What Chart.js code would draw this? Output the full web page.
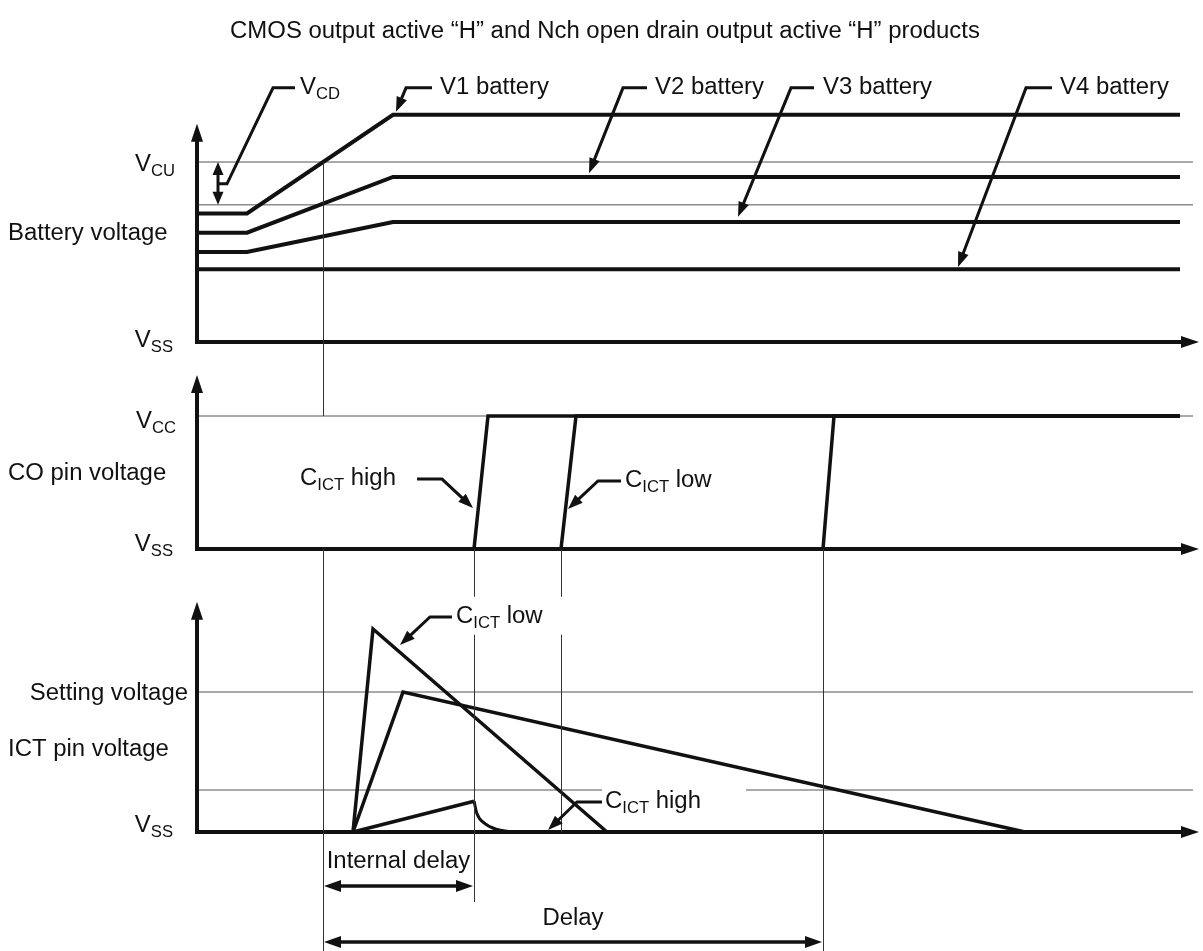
<!DOCTYPE html>
<html lang="en">
<head>
<meta charset="UTF-8">
<title>Overcharge detection timing</title>
<script src="https://cdn.jsdelivr.net/npm/chart.js"></script>
<style>
  body { margin: 0; background: #fff; }
  canvas { display: block; }
</style>
</head>
<body>
<canvas id="timing" width="1203" height="951"></canvas>
<script>
// ---- data: time in arbitrary units, each panel in its own voltage units ----
const title = 'CMOS output active \u201cH\u201d and Nch open drain output active \u201cH\u201d products';

const tEnd = 98.3;                 // end of drawn waveforms
const tAxisEnd = 99.3;             // end of time axes
const tRefEnd = 99.6;              // end of thin reference levels
const tRamp = [5.0, 19.6];         // battery charging ramp start / end
const tDetect = 12.6;              // battery crosses VCU
const tInternal = 27.7;            // internal delay over
const tLowOut = 36.4;
const tDelay = 62.6;

// battery voltage panel
const VCU = 4.2;
const VCU_minus_VCD = 3.2;
const batteryNames = ['V1 battery', 'V2 battery', 'V3 battery', 'V4 battery'];
const batteryStart = [3.0, 2.55, 2.1, 1.7];
const batteryEnd = [5.3, 3.85, 2.8, 1.7];

// CO pin panel
const VCC = 5;
const coEdgeLow = [27.7, 36.4, 62.6];
const coEdgeHigh = [29.1, 37.9, 63.7];

// ICT pin panel
const VSET = 1.0;
const VREF_LOW = 0.3;
const ictLow = [[15.6, 0], [17.6, 1.45], [41.0, 0]];
const ictMid = [[15.6, 0], [20.6, 1.0], [82.8, 0]];
const ictHighRise = [[15.6, 0], [27.7, 0.22]];
const ictHighFall = [[27.7, 0.22], [28.0, 0.13], [28.8, 0.06], [29.9, 0.02], [31.5, 0]];

// ---- look ----
const INK = '#111';
const THIN = '#555';
const FONT = '"Liberation Sans", Arial, Helvetica, sans-serif';
const SX = 1.04;
const FS = 23, FS_SUB = 16;
const H = 951;

// value range so that v0 sits at pixel px0 and v1 at px1 on a full-height scale
function panel(v0, px0, v1, px1) {
  const k = (px0 - px1) / (v1 - v0);
  return { min: v0 - (H - px0) / k, max: v0 + px0 / k };
}

function line(yAxisID, pts, opts) {
  return Object.assign({
    yAxisID: yAxisID,
    data: pts.map(p => ({ x: p[0], y: p[1] })),
    showLine: true,
    pointRadius: 0,
    borderColor: INK,
    borderWidth: 4,
    borderJoinStyle: 'miter',
    tension: 0,
    order: 2
  }, opts || {});
}

const datasets = [];

// thin reference levels
datasets.push(line('yB', [[0, VCU], [tRefEnd, VCU]], { borderColor: THIN, borderWidth: 1, order: 3 }));
datasets.push(line('yB', [[0, VCU_minus_VCD], [tRefEnd, VCU_minus_VCD]], { borderColor: THIN, borderWidth: 1, order: 3 }));
datasets.push(line('yC', [[0, VCC], [tRefEnd, VCC]], { borderColor: THIN, borderWidth: 1, order: 3 }));
datasets.push(line('yI', [[0, VSET], [tRefEnd, VSET]], { borderColor: THIN, borderWidth: 1, order: 3 }));
datasets.push(line('yI', [[0, VREF_LOW], [40.5, VREF_LOW]], { borderColor: THIN, borderWidth: 1, order: 3 }));
datasets.push(line('yI', [[54.9, VREF_LOW], [tRefEnd, VREF_LOW]], { borderColor: THIN, borderWidth: 1, order: 3 }));

// battery waveforms
batteryNames.forEach((n, i) => {
  datasets.push(line('yB', [[0, batteryStart[i]], [tRamp[0], batteryStart[i]], [tRamp[1], batteryEnd[i]], [tEnd, batteryEnd[i]]], { label: n }));
});

// CO pin waveforms
coEdgeLow.forEach((t, i) => {
  datasets.push(line('yC', [[0, 0], [t, 0], [coEdgeHigh[i], VCC], [tEnd, VCC]], { borderWidth: 3.5 }));
});

// ICT pin waveforms
datasets.push(line('yI', ictLow, { borderWidth: 3.5 }));
datasets.push(line('yI', ictMid, { borderWidth: 3.5 }));
datasets.push(line('yI', ictHighRise, { borderWidth: 3.5 }));
datasets.push(line('yI', ictHighFall, { borderWidth: 3, tension: 0.4, cubicInterpolationMode: 'monotone' }));

// axes with arrow heads
datasets.push(line('yB', [[0, 4.88], [0, 0], [tAxisEnd, 0]], { arrows: true, order: 1 }));
datasets.push(line('yC', [[0, 6.2], [0, 0], [tAxisEnd, 0]], { arrows: true, order: 1 }));
datasets.push(line('yI', [[0, 1.58], [0, 0], [tAxisEnd, 0]], { arrows: true, order: 1 }));

// ---- annotations ----
const axisLabels = [
  { s: 'V_{CU}', y: ['yB', VCU], dy: 1, x: 175, align: 'right' },
  { s: 'Battery voltage', y: ['yB', 2.57], dy: 0, x: 8, align: 'left' },
  { s: 'V_{SS}', y: ['yB', 0], dy: -3, x: 173, align: 'right' },
  { s: 'V_{CC}', y: ['yC', VCC], dy: 4, x: 176, align: 'right' },
  { s: 'CO pin voltage', y: ['yC', 2.9], dy: 0, x: 8, align: 'left' },
  { s: 'V_{SS}', y: ['yC', 0], dy: -6, x: 173, align: 'right' },
  { s: 'Setting voltage', y: ['yI', VSET], dy: 0, x: 188, align: 'right' },
  { s: 'ICT pin voltage', y: ['yI', 0.6], dy: 0, x: 8, align: 'left' },
  { s: 'V_{SS}', y: ['yI', 0], dy: -8, x: 173, align: 'right' }
];

const callouts = [
  { s: 'V_{CD}', scale: 'yB', pts: [[2.1, 3.69], [3.0, 3.69], [7.6, 5.93], [9.8, 5.93]], tx: 10.3, head: false },
  { s: batteryNames[0], scale: 'yB', pts: [[23.5, 5.93], [20.9, 5.93], [19.9, 5.37]], tx: 24.3, head: true },
  { s: batteryNames[1], scale: 'yB', pts: [[45.0, 5.93], [42.6, 5.93], [39.2, 3.94]], tx: 45.8, head: true },
  { s: batteryNames[2], scale: 'yB', pts: [[61.7, 5.93], [59.4, 5.93], [54.1, 2.92]], tx: 62.6, head: true },
  { s: batteryNames[3], scale: 'yB', pts: [[85.5, 5.93], [82.9, 5.93], [76.1, 1.75]], tx: 86.3, head: true },
  { s: 'C_{ICT} high', scale: 'yC', pts: [[22.0, 2.63], [24.5, 2.63], [27.6, 1.54]], tx: 10.3, head: true },
  { s: 'C_{ICT} low', scale: 'yC', pts: [[42.4, 2.56], [40.1, 2.56], [37.1, 1.50]], tx: 42.8, head: true },
  { s: 'C_{ICT} low', scale: 'yI', pts: [[25.5, 1.536], [23.3, 1.536], [20.3, 1.336]], tx: 25.9, head: true },
  { s: 'C_{ICT} high', scale: 'yI', pts: [[40.5, 0.214], [38.0, 0.214], [35.1, 0.014]], tx: 40.8, head: true }
];

const guides = [
  { t: tDetect, segs: [[['yB', VCU], ['yC', VCC]], [['yC', 0], ['yI', -0.86]]] },
  { t: tInternal, segs: [[['yC', 0], ['yI', 1.68]], [['yI', 1.41], ['yI', -0.5]]] },
  { t: tLowOut, segs: [[['yC', 0], ['yI', 1.68]], [['yI', 1.41], ['yI', 0]]] },
  { t: tDelay, segs: [[['yC', 0], ['yI', -0.86]]] }
];

const spans = [
  { s: 'Internal delay', from: tDetect, to: tInternal, v: -0.386, tv: -0.2 },
  { s: 'Delay', from: tDetect, to: tDelay, v: -0.786, tv: -0.607 }
];

function parseRich(s) {
  const out = [];
  const re = /_\{([^}]*)\}/g;
  let last = 0, m;
  while ((m = re.exec(s))) {
    if (m.index > last) out.push([s.slice(last, m.index), false]);
    out.push([m[1], true]);
    last = re.lastIndex;
  }
  if (last < s.length) out.push([s.slice(last), false]);
  return out;
}

function richText(ctx, s, x, y, align) {
  const parts = parseRich(s);
  const font = sub => (sub ? FS_SUB : FS) + 'px ' + FONT;
  ctx.save();
  ctx.fillStyle = INK;
  ctx.textBaseline = 'alphabetic';
  let w = 0;
  parts.forEach(p => { ctx.font = font(p[1]); w += ctx.measureText(p[0]).width; });
  const x0 = align === 'right' ? x - w * SX : align === 'center' ? x - w * SX / 2 : x;
  ctx.translate(x0, y + FS * 0.36);
  ctx.scale(SX, 1);
  let cx = 0;
  parts.forEach(p => {
    ctx.font = font(p[1]);
    ctx.fillText(p[0], cx, p[1] ? 5 : 0);
    cx += ctx.measureText(p[0]).width;
  });
  ctx.restore();
}

function arrowHead(ctx, tx, ty, fx, fy, len, wid) {
  const a = Math.atan2(ty - fy, tx - fx);
  ctx.save();
  ctx.translate(tx, ty);
  ctx.rotate(a);
  ctx.beginPath();
  ctx.moveTo(0, 0);
  ctx.lineTo(-len, wid / 2);
  ctx.lineTo(-len, -wid / 2);
  ctx.closePath();
  ctx.fill();
  ctx.restore();
}

// polyline whose last point is an arrow tip
function leader(ctx, p, len, wid, lw, head) {
  const n = p.length;
  let end = p[n - 1];
  if (head) {
    const a = Math.atan2(end[1] - p[n - 2][1], end[0] - p[n - 2][0]);
    end = [end[0] - Math.cos(a) * len * 0.7, end[1] - Math.sin(a) * len * 0.7];
  }
  ctx.lineWidth = lw;
  ctx.beginPath();
  ctx.moveTo(p[0][0], p[0][1]);
  for (let i = 1; i < n - 1; i++) ctx.lineTo(p[i][0], p[i][1]);
  ctx.lineTo(end[0], end[1]);
  ctx.stroke();
  if (head) arrowHead(ctx, p[n - 1][0], p[n - 1][1], p[n - 2][0], p[n - 2][1], len, wid);
}

const decorations = {
  id: 'decorations',
  afterDatasetsDraw(chart) {
    const ctx = chart.ctx;
    const px = t => chart.scales.x.getPixelForValue(t);
    const py = (id, v) => chart.scales[id].getPixelForValue(v);
    ctx.save();
    ctx.fillStyle = INK;
    ctx.strokeStyle = INK;

    // axis arrow heads
    chart.data.datasets.forEach((ds, i) => {
      if (!ds.arrows) return;
      const d = chart.getDatasetMeta(i).data;
      const ends = [[d[0], d[1]], [d[d.length - 1], d[d.length - 2]]];
      ends.forEach(([e, f]) => {
        const a = Math.atan2(e.y - f.y, e.x - f.x);
        arrowHead(ctx, e.x + Math.cos(a) * 9, e.y + Math.sin(a) * 9, f.x, f.y, 18, 12);
      });
    });

    // thin time guides
    ctx.strokeStyle = '#333';
    ctx.lineWidth = 1;
    guides.forEach(g => {
      const x = Math.round(px(g.t)) + 0.5;
      g.segs.forEach(([a, b]) => {
        ctx.beginPath();
        ctx.moveTo(x, py(a[0], a[1]));
        ctx.lineTo(x, py(b[0], b[1]));
        ctx.stroke();
      });
    });
    ctx.strokeStyle = INK;

    // VCD double arrow
    const xd = px(2.1), yTop = py('yB', VCU), yBot = py('yB', VCU_minus_VCD);
    ctx.lineWidth = 3;
    ctx.beginPath();
    ctx.moveTo(xd, yTop + 8);
    ctx.lineTo(xd, yBot - 8);
    ctx.stroke();
    arrowHead(ctx, xd, yTop, xd, yBot, 13, 11);
    arrowHead(ctx, xd, yBot, xd, yTop, 13, 11);

    // callouts
    callouts.forEach(c => {
      const p = c.pts.map(q => [px(q[0]), py(c.scale, q[1])]);
      leader(ctx, p, 15, 11, 3, c.head);
      const ty = c.head ? p[0][1] : p[p.length - 1][1];
      richText(ctx, c.s, px(c.tx), ty - 2, 'left');
    });

    // delay dimension arrows
    spans.forEach(s => {
      const y = py('yI', s.v), x1 = px(s.from), x2 = px(s.to);
      ctx.lineWidth = 3.5;
      ctx.beginPath();
      ctx.moveTo(x1 + 10, y);
      ctx.lineTo(x2 - 10, y);
      ctx.stroke();
      arrowHead(ctx, x1 + 1, y, x2, y, 17, 12);
      arrowHead(ctx, x2 - 1, y, x1, y, 17, 12);
      richText(ctx, s.s, (x1 + x2) / 2, py('yI', s.tv), 'center');
    });

    // panel labels and title
    axisLabels.forEach(l => richText(ctx, l.s, l.x, py(l.y[0], l.y[1]) + l.dy, l.align));
    richText(ctx, title, 605, 30, 'center');
    ctx.restore();
  }
};

const hidden = r => Object.assign({ type: 'linear', display: false, position: 'left' }, r);

new Chart(document.getElementById('timing'), {
  type: 'scatter',
  data: { datasets: datasets },
  options: {
    responsive: false,
    animation: false,
    events: [],
    layout: { padding: 0 },
    plugins: { legend: { display: false }, tooltip: { enabled: false } },
    scales: {
      x: { type: 'linear', display: false, min: -19.7, max: 100.6 },
      yB: hidden(panel(0, 342, VCU, 162)),
      yC: hidden(panel(0, 549, VCC, 416)),
      yI: hidden(panel(0, 832, VSET, 692))
    }
  },
  plugins: [decorations]
});
</script>
</body>
</html>
